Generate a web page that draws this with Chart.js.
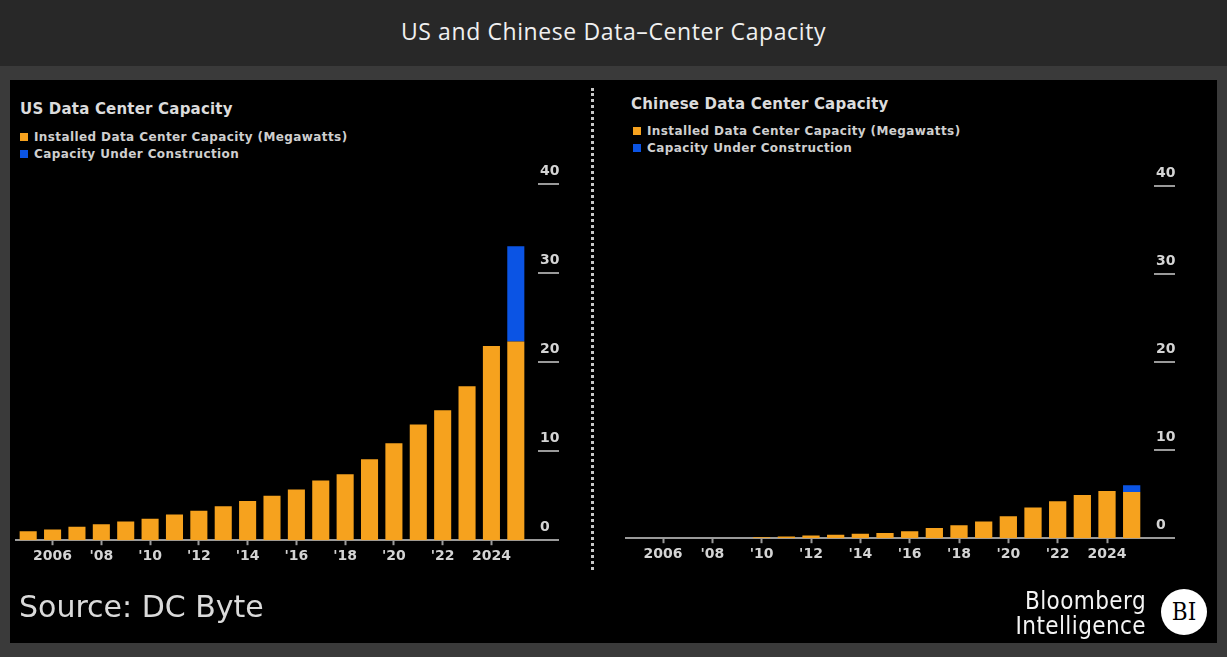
<!DOCTYPE html>
<html>
<head>
<meta charset="utf-8">
<script src="https://cdn.jsdelivr.net/npm/chart.js@4.4.1/dist/chart.umd.min.js"></script>
<style>
  body { margin: 0; width: 1227px; height: 657px; background: #3a3a3a; position: relative; overflow: hidden; }
  #topbar { position: absolute; left: 0; top: 0; width: 1227px; height: 66px; background: #282828;
    color: #f0f0f0; font: 23px "Open Sans", sans-serif; letter-spacing: 0.6px; text-align: center; line-height: 62px; }
  #panel { position: absolute; left: 10px; top: 80px; width: 1207px; height: 563px; background: #000; }
  .abs { position: absolute; }
  .title { font: bold 15px "DejaVu Sans", sans-serif; letter-spacing: 0.2px; color: #dcdcdc; white-space: nowrap; }
  .leg { font: bold 12px "DejaVu Sans", sans-serif; letter-spacing: 0.4px; color: #cfcfcf; white-space: nowrap; }
  .leg span { display: inline-block; width: 8px; height: 8px; margin-right: 6px; vertical-align: 0px; }
  #divider { position: absolute; left: 591px; top: 88px; height: 482px; border-left: 3px dotted #c8c8c8; }
  #source { font: 30px "DejaVu Sans", sans-serif; color: #dadada; }
  .bbg { font: 24px "DejaVu Sans Condensed", sans-serif; letter-spacing: 0.4px; color: #f4f4f4; text-align: right; line-height: 25px; }
  #bi { width: 46px; height: 46px; border-radius: 50%; background: #fff; color: #000;
    font: 24px "DejaVu Serif Condensed", serif; text-align: center; line-height: 46px; }
</style>
</head>
<body>
<div id="topbar">US and Chinese Data–Center Capacity</div>
<div id="panel"></div>

<div class="abs title" style="left:20px; top:100px;">US Data Center Capacity</div>
<div class="abs leg" style="left:20px; top:130px;"><span style="background:#f6a21e"></span>Installed Data Center Capacity (Megawatts)</div>
<div class="abs leg" style="left:20px; top:147px;"><span style="background:#0b54e4"></span>Capacity Under Construction</div>

<div class="abs title" style="left:631px; top:95px;">Chinese Data Center Capacity</div>
<div class="abs leg" style="left:633px; top:124px;"><span style="background:#f6a21e"></span>Installed Data Center Capacity (Megawatts)</div>
<div class="abs leg" style="left:633px; top:141px;"><span style="background:#0b54e4"></span>Capacity Under Construction</div>

<div id="divider"></div>

<canvas id="usChart" class="abs" width="590" height="440" style="left:0px; top:150px;"></canvas>
<canvas id="cnChart" class="abs" width="590" height="440" style="left:600px; top:150px;"></canvas>

<div id="source" class="abs" style="left:19px; top:589px;">Source: DC Byte</div>
<div class="abs bbg" style="left:980px; width:166px; top:589px;">Bloomberg<br>Intelligence</div>
<div id="bi" class="abs" style="left:1161px; top:589px;">BI</div>

<script>
// categories and tick labels
const years = ["2005", "2006", "2007", "2008", "2009", "2010", "2011", "2012", "2013", "2014", "2015",
  "2016", "2017", "2018", "2019", "2020", "2021", "2022", "2023", "2024", "2025"];
const xTickLabels = ["", "2006", "", "'08", "", "'10", "", "'12", "", "'14", "",
  "'16", "", "'18", "", "'20", "", "'22", "", "2024", ""];

// US
const usInstalled = [1.0, 1.2, 1.5, 1.8, 2.1, 2.4, 2.9, 3.3, 3.8, 4.4, 5.0,
  5.7, 6.7, 7.4, 9.1, 10.9, 13.0, 14.6, 17.3, 21.8, 22.3];
const usConstruction = [null, null, null, null, null, null, null, null, null, null, null,
  null, null, null, null, null, null, null, null, null, 10.7];

// China
const cnInstalled = [0, 0, 0, 0, 0, 0.1, 0.2, 0.3, 0.4, 0.5, 0.6,
  0.8, 1.17, 1.47, 1.9, 2.5, 3.5, 4.2, 4.9, 5.35, 5.25];
const cnConstruction = [null, null, null, null, null, null, null, null, null, null, null,
  null, null, null, null, null, null, null, null, null, 0.75];

const orange = "#f6a21e";
const blue = "#0b54e4";
const axisGray = "#9a9a9a";
const tickFont = { family: "DejaVu Sans", weight: "bold", size: 14 };

// short underline under each y label (the 0 one joins the baseline)
const tickUnderlines = {
  id: "tickUnderlines",
  afterDraw(chart) {
    const { ctx, chartArea } = chart;
    const y = chart.scales.y;
    ctx.save();
    ctx.strokeStyle = axisGray;
    ctx.lineWidth = 2;
    y.ticks.forEach((t) => {
      const py = Math.round(y.getPixelForValue(t.value));
      ctx.beginPath();
      ctx.moveTo(chartArea.right + (t.value === 0 ? 0 : 10), py);
      ctx.lineTo(chartArea.right + 31, py);
      ctx.stroke();
    });
    ctx.restore();
  },
};

const makeChart = (id, installed, construction, padding) => {
  const ctx = document.getElementById(id);
  return new Chart(ctx, {
    type: "bar",
    data: {
      labels: years,
      datasets: [
        { label: "Installed Data Center Capacity (Megawatts)", data: installed, backgroundColor: orange,
          barPercentage: 0.7, categoryPercentage: 1 },
        { label: "Capacity Under Construction", data: construction, backgroundColor: blue,
          barPercentage: 0.7, categoryPercentage: 1 },
      ],
    },
    options: {
      responsive: false,
      animation: false,
      layout: { padding: padding },
      plugins: { legend: { display: false }, tooltip: { enabled: false } },
      scales: {
        x: {
          stacked: true,
          grid: { drawOnChartArea: false, offset: false, tickLength: 5, tickWidth: 2, tickColor: axisGray },
          border: { display: true, color: axisGray, width: 2 },
          ticks: {
            autoSkip: false, maxRotation: 0, padding: 3, color: "#d4d4d4", font: tickFont,
            callback: (v, i) => xTickLabels[i] || null,
          },
        },
        y: {
          stacked: true,
          position: "right",
          min: 0,
          max: 40,
          afterFit: (scale) => { scale.width = 40; },
          grid: { display: false, drawTicks: false },
          border: { display: false },
          ticks: { stepSize: 10, padding: 12, labelOffset: -13, color: "#d4d4d4", font: tickFont },
        },
      },
    },
    plugins: [tickUnderlines],
  });
};

makeChart("usChart", usInstalled, usConstruction, { left: 16, right: 22, top: 34, bottom: 22 });
makeChart("cnChart", cnInstalled, cnConstruction, { left: 26, right: 6, top: 36, bottom: 24 });
</script>
</body>
</html>
